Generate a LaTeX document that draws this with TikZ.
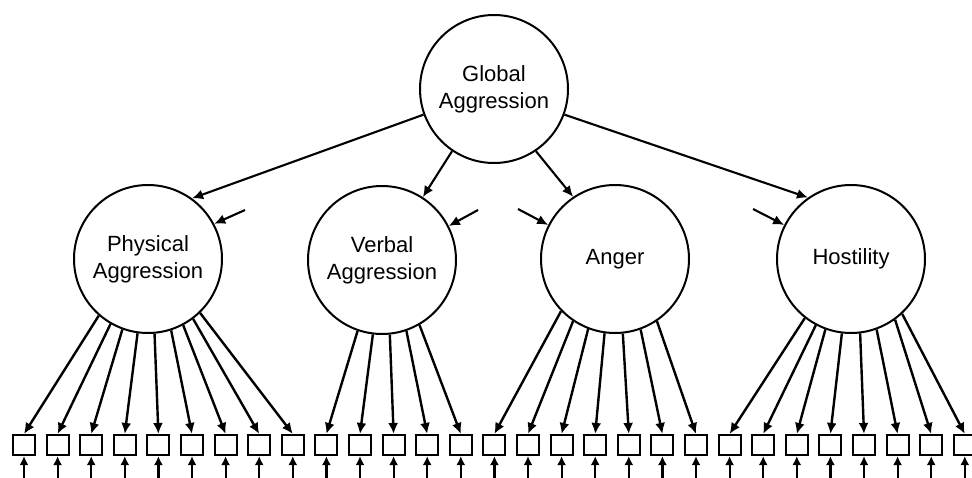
\documentclass[tikz,border=0pt]{standalone}
\usepackage{fontspec}
\setmainfont{Liberation Sans}
\usetikzlibrary{arrows.meta}
\begin{document}
\begin{tikzpicture}[x=1pt,y=-1pt,
  latent/.style={circle, draw, line width=2pt, minimum size=148pt, inner sep=0pt,
    align=center, font=\fontsize{22}{27}\selectfont},
  item/.style={rectangle, draw, line width=2.1pt, minimum width=22pt, minimum height=20pt, inner sep=0pt},
  load/.style={line width=2.4pt, -{Latex[length=11pt,width=10pt]}},
  second/.style={line width=2.1pt, -{Latex[length=11pt,width=10pt]}},
  err/.style={line width=2.2pt, -{Latex[length=9pt,width=9pt]}}]
\useasboundingbox (0,0) rectangle (972,477);
\clip (0,0) rectangle (972,477);
\fill[white] (0,0) rectangle (972,477);

% latent factors
\node[latent] (glob) at (494,89)  {Global\\Aggression};
\node[latent] (phys) at (148,259) {Physical\\Aggression};
\node[latent] (verb) at (382,260) {Verbal\\Aggression};
\node[latent] (ang)  at (615,259) {Anger};
\node[latent] (hos)  at (851,259) {Hostility};

% observed items and their error terms
\foreach \i in {1,...,29} {
  \node[item] (x\i) at ({24+(\i-1)*33.6},445) {};
  \coordinate (u\i) at ({24+(\i-1)*33.6},492);
  \draw[err] (u\i) -- (x\i.south);
}

% second-order loadings
\draw[second] (glob.-160) -- (phys.54);
\draw[second] (glob.-124) -- (verb.57);
\draw[second] (glob.-56)  -- (ang.124);
\draw[second] (glob.-20)  -- (hos.125);

% disturbances of the first-order factors
\coordinate (d1) at (245,210);
\coordinate (d2) at (478,210);
\coordinate (d3) at (518,209);
\coordinate (d4) at (753,209);
\draw[second] (d1) -- (phys.28);
\draw[second] (d2) -- (verb.27);
\draw[second] (d3) -- (ang.153);
\draw[second] (d4) -- (hos.153);

% first-order loadings
\foreach \a [count=\k] in {-131,-120,-110,-98,-85,-72,-62,-53,-46}
  \draw[load] (phys.\a) -- (x\k.north);
\foreach \a [count=\k from 10] in {-109,-97,-84,-71,-60}
  \draw[load] (verb.\a) -- (x\k.north);
\foreach \a [count=\k from 15] in {-136,-124,-111,-98,-84,-70,-56}
  \draw[load] (ang.\a) -- (x\k.north);
\foreach \a [count=\k from 22] in {-128,-118,-110,-97,-83,-70,-54,-47}
  \draw[load] (hos.\a) -- (x\k.north);
\end{tikzpicture}
\end{document}
